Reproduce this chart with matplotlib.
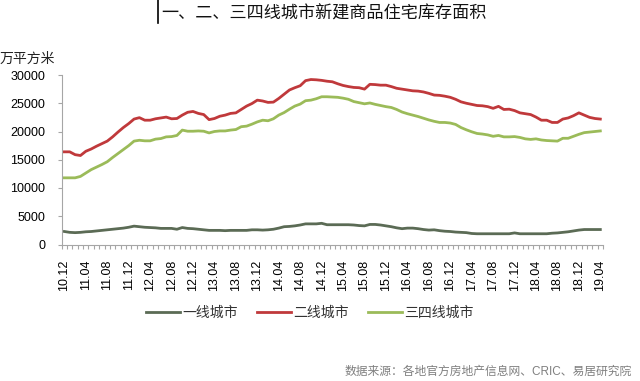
import matplotlib
matplotlib.use("Agg")
import matplotlib.pyplot as plt
from matplotlib.lines import Line2D

plt.rcParams["font.family"] = ["Liberation Sans", "Noto Sans CJK SC"]

# 月度数据 2010.12 - 2019.04，单位：万平方米
tier1 = [2300, 2150, 2100, 2150, 2250, 2300, 2400, 2500, 2600, 2700,
         2800, 2900, 3050, 3250, 3150, 3050, 3000, 2950, 2850, 2850,
         2850, 2700, 3000, 2850, 2800, 2700, 2600, 2500, 2500, 2500,
         2450, 2500, 2500, 2500, 2500, 2600, 2600, 2550, 2600, 2700,
         2900, 3150, 3200, 3300, 3450, 3650, 3650, 3650, 3750, 3500,
         3500, 3500, 3500, 3500, 3450, 3350, 3300, 3550, 3550, 3450,
         3300, 3150, 2950, 2800, 2900, 2900, 2800, 2650, 2550, 2600,
         2450, 2350, 2300, 2200, 2150, 2100, 1950, 1900, 1900, 1900,
         1900, 1900, 1900, 1900, 2050, 1900, 1900, 1900, 1900, 1900,
         1900, 2000, 2050, 2150, 2250, 2400, 2550, 2650, 2650, 2650,
         2650]
tier2 = [16400, 16400, 15900, 15750, 16500, 16900, 17400, 17850, 18300, 19050,
         19900, 20700, 21400, 22200, 22450, 22000, 22000, 22250, 22400, 22550,
         22250, 22300, 22900, 23400, 23550, 23200, 23000, 22100, 22300, 22700,
         22900, 23200, 23300, 23900, 24500, 24950, 25550, 25400, 25150, 25200,
         25850, 26600, 27350, 27750, 28100, 29000, 29200, 29150, 29050, 28900,
         28800, 28450, 28150, 27950, 27800, 27750, 27500, 28350, 28300, 28200,
         28200, 27950, 27650, 27500, 27350, 27200, 27150, 27000, 26750, 26450,
         26400, 26250, 26050, 25700, 25250, 25000, 24800, 24600, 24550, 24400,
         24100, 24450, 23900, 23950, 23700, 23300, 23150, 23000, 22550, 22000,
         22000, 21600, 21600, 22200, 22400, 22800, 23300, 22900, 22500, 22300,
         22200]
tier34 = [11800, 11800, 11800, 12050, 12650, 13250, 13700, 14150, 14650, 15400,
          16100, 16800, 17500, 18300, 18450, 18350, 18350, 18650, 18750, 19050,
          19100, 19300, 20250, 20050, 20050, 20100, 20050, 19750, 20000, 20100,
          20100, 20250, 20350, 20850, 20950, 21300, 21700, 22000, 21900, 22250,
          22900, 23350, 23950, 24500, 24850, 25450, 25550, 25800, 26150, 26150,
          26100, 26050, 25900, 25700, 25300, 25100, 24900, 25050, 24800, 24600,
          24400, 24250, 23900, 23450, 23150, 22900, 22650, 22350, 22050, 21800,
          21600, 21600, 21500, 21250, 20700, 20300, 19950, 19650, 19550, 19400,
          19150, 19300, 19050, 19050, 19100, 18950, 18700, 18600, 18700, 18500,
          18400, 18350, 18300, 18800, 18800, 19150, 19500, 19800, 19900, 20000,
          20100]
tick_labels = ["10.12", "11.04", "11.08", "11.12", "12.04", "12.08", "12.12",
               "13.04", "13.08", "13.12", "14.04", "14.08", "14.12", "15.04",
               "15.08", "15.12", "16.04", "16.08", "16.12", "17.04", "17.08",
               "17.12", "18.04", "18.08", "18.12", "19.04"]
names = ["一线城市", "二线城市", "三四线城市"]
colors = ["#5b6b55", "#c0393b", "#9bbb59"]

fig = plt.figure(figsize=(6.4, 3.81), dpi=100)
ax = fig.add_axes([61.7/640, 1-244.5/381, (603-61.7)/640, (244.5-75)/381])

x = list(range(len(tier1)))
for ys, nm, c in zip([tier1, tier2, tier34], names, colors):
    ax.plot(x, ys, color=c, lw=2.0, label=nm, solid_joinstyle="round")

ax.set_xlim(-0.5, len(x) - 0.5)
ax.set_ylim(0, 30000)
ax.set_yticks(range(0, 30001, 5000))
ax.set_xticks(range(0, len(x), 4))
ax.set_xticklabels(tick_labels, rotation=90, fontsize=9)
ax.set_xticks([i - 0.5 for i in range(len(x) + 1)], minor=True)
ax.tick_params(axis="x", which="major", length=0, pad=11)
ax.tick_params(axis="x", which="minor", length=3, color="#a6a6a6", width=0.8)
ax.tick_params(axis="y", length=3, color="#a6a6a6", width=0.8, pad=9, labelsize=9)
for s in ["top", "right"]:
    ax.spines[s].set_visible(False)
for s in ["left", "bottom"]:
    ax.spines[s].set_color("#a6a6a6")
    ax.spines[s].set_linewidth(0.8)

fig.text(0, 1-59/381, "万平方米", fontsize=10, va="center", ha="left", color="#222222")

# 标题及左侧竖线
fig.add_artist(Line2D([158/640, 158/640], [1, 1-23/381], color="black", lw=1.2))
fig.text(161/640, 1-13/381, "一、二、三四线城市新建商品住宅库存面积", fontsize=12.3,
         va="center", ha="left", color="#111111")

fig.legend(loc="center", bbox_to_anchor=(310/640, 1-313/381), ncol=3, frameon=False,
           fontsize=10, handlelength=2.4, handletextpad=0.2, columnspacing=1.4,
           labelcolor="#333333")

fig.text(632/640, 1-372/381, "数据来源：各地官方房地产信息网、CRIC、易居研究院",
         fontsize=8.5, ha="right", va="center", color="#7f7f7f")

fig.savefig("out.png", dpi=100)
